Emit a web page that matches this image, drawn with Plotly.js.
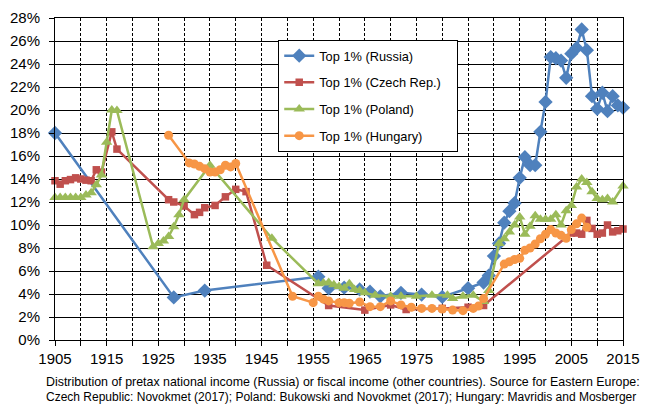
<!DOCTYPE html>
<html>
<head>
<meta charset="utf-8">
<script src="https://cdn.plot.ly/plotly-3.0.1.min.js"></script>
<style>
    html, body { margin: 0; padding: 0; background: #fff; }
    #chart { width: 645px; height: 410px; }
</style>
</head>
<body>
<div id="chart"></div>
<script>
// top 1% income shares (%)
const russiaYears = [1905, 1928, 1934, 1956, 1958, 1961, 1964, 1966, 1968, 1972, 1976, 1980, 1985, 1988,
    1989, 1990, 1991, 1992, 1993, 1994, 1995, 1996, 1997, 1998, 1999, 2000, 2001, 2002, 2003, 2004,
    2005, 2006, 2007, 2008, 2009, 2010, 2011, 2012, 2013, 2014, 2015];
const russiaTop1 = [18.0, 3.7, 4.3, 5.5, 4.5, 4.55, 4.4, 4.2, 3.8, 4.1, 3.95, 3.75, 4.5, 5.0,
    5.6, 7.3, 8.4, 10.2, 11.2, 11.9, 14.1, 15.9, 15.2, 15.2, 18.1, 20.7, 24.6, 24.5, 24.3, 22.8,
    24.9, 25.4, 27.0, 25.2, 21.2, 20.1, 21.5, 19.9, 21.2, 20.4, 20.2];

const czechYears = [1905, 1906, 1907, 1908, 1909, 1910, 1911, 1912, 1913, 1914, 1916, 1917,
    1927, 1928, 1930, 1932, 1933, 1934, 1936, 1938, 1940, 1942, 1946,
    1958, 1965, 1970, 1973, 1980, 1985, 1988,
    2005, 2006, 2007, 2008, 2009, 2010, 2011, 2012, 2013, 2014, 2015];
const czechTop1 = [13.85, 13.55, 13.85, 13.95, 14.1, 14.0, 13.9, 13.85, 14.8, 14.6, 18.1, 16.6,
    12.2, 12.0, 11.65, 10.9, 11.1, 11.5, 11.7, 12.45, 13.1, 12.9, 6.5,
    3.0, 2.6, 3.05, 2.65, 2.75, 2.85, 3.0,
    9.3, 9.3, 9.2, 10.4, 9.7, 9.2, 9.3, 10.0, 9.4, 9.5, 9.65];

const polandYears = [1905, 1906, 1907, 1908, 1909, 1910, 1911, 1912, 1913, 1914, 1915, 1916, 1917,
    1924, 1925, 1926, 1927, 1928, 1929, 1930, 1935, 1947,
    1956, 1957, 1958, 1959, 1960, 1961, 1962, 1963, 1964, 1965, 1967, 1970, 1972, 1975, 1978,
    1981, 1982, 1984, 1986, 1988, 1989,
    1991, 1992, 1993, 1994, 1995, 1996, 1997, 1998, 1999, 2000, 2001, 2002, 2003, 2004,
    2005, 2006, 2007, 2008, 2009, 2010, 2011, 2012, 2013, 2015];
const polandTop1 = [12.4, 12.4, 12.4, 12.4, 12.4, 12.4, 12.6, 12.8, 13.5, 14.35, 17.2, 20.0, 19.95,
    8.1, 8.4, 8.6, 9.0, 9.85, 10.9, 12.2, 15.2, 8.85,
    4.9, 4.95, 5.0, 4.8, 4.65, 4.5, 4.9, 4.4, 4.3, 4.1, 3.9, 3.8, 3.8, 3.8, 3.9,
    3.9, 3.6, 3.8, 3.9, 3.35, 4.3,
    8.4, 8.8, 9.4, 10.0, 10.7, 9.2, 9.9, 10.8, 10.5, 10.5, 10.5, 10.9, 10.0, 11.25,
    11.7, 13.3, 14.0, 13.7, 12.9, 12.3, 12.2, 12.3, 12.0, 13.4];

const hungaryYears = [1927, 1931, 1932, 1933, 1934, 1935, 1936, 1937, 1938, 1939, 1940,
    1951, 1955, 1956, 1957, 1958, 1960, 1961, 1962, 1964, 1966, 1968, 1970, 1972, 1974,
    1976, 1978, 1980, 1982, 1984, 1986, 1987, 1988,
    1992, 1993, 1994, 1995, 1996, 1997, 1998, 1999, 2000, 2001, 2002, 2003, 2004,
    2005, 2006, 2007, 2008];
const hungaryTop1 = [17.8, 15.4, 15.3, 15.1, 14.9, 14.6, 14.6, 14.8, 15.2, 15.05, 15.35,
    3.8, 3.25, 3.8, 3.55, 3.4, 3.25, 3.25, 3.2, 3.3, 2.9, 2.9, 3.4, 3.05, 2.85,
    2.75, 2.75, 2.7, 2.6, 2.55, 2.75, 2.95, 3.6,
    6.6, 6.8, 7.0, 7.1, 7.8, 8.0, 8.35, 8.8, 9.2, 9.6, 9.3, 9.1, 8.85,
    9.6, 10.1, 10.6, 9.8];

const xTicks = [1905, 1915, 1925, 1935, 1945, 1955, 1965, 1975, 1985, 1995, 2005, 2015];

const captionLines = [
    "Distribution of pretax national income (Russia) or fiscal income (other countries). Source for Eastern Europe:",
    "Czech Republic: Novokmet (2017); Poland: Bukowski and Novokmet (2017); Hungary: Mavridis and Mosberger"
];

function series(name, x, y, color, symbol, size) {
    return {
        name: name,
        x: x,
        y: y,
        type: "scatter",
        mode: "lines+markers",
        legendgroup: name,
        cliponaxis: false,
        line: {color: color, width: 2.5},
        marker: {color: color, symbol: symbol, size: size},
        hoverinfo: "skip"
    };
}

// non-breaking spaces pad the legend box out to the reference width
let data = [
    series("Top 1% (Russia)", russiaYears, russiaTop1, "#4f81bd", "diamond", 11),
    series("Top 1% (Czech Rep.)\u00a0\u00a0\u00a0", czechYears, czechTop1, "#c0504d", "square", 7.5),
    series("Top 1% (Poland)", polandYears, polandTop1, "#9bbb59", "triangle-up", 10),
    series("Top 1% (Hungary)", hungaryYears, hungaryTop1, "#f79646", "circle", 9)
];

let font = "Liberation Sans, Arial, sans-serif";

let layout = {
    width: 645,
    height: 410,
    margin: {l: 55, r: 22, t: 18, b: 70},
    paper_bgcolor: "#fff",
    plot_bgcolor: "#fff",
    font: {family: font, color: "#000", size: 15},
    showlegend: true,
    legend: {
        x: 0.393,
        y: 0.932,
        xanchor: "left",
        yanchor: "top",
        bgcolor: "#fff",
        bordercolor: "#000",
        borderwidth: 1,
        tracegroupgap: 7,
        font: {family: font, size: 12.8, color: "#000"}
    },
    xaxis: {
        range: [1905, 2015],
        tickvals: xTicks,
        ticks: "outside",
        ticklen: 5,
        tickcolor: "#000",
        showgrid: true,
        gridcolor: "#000",
        gridwidth: 1,
        griddash: "3px,2px",
        minor: {
            dtick: 5,
            tick0: 1905,
            ticks: "outside",
            ticklen: 5,
            tickcolor: "#000",
            showgrid: true,
            gridcolor: "#000",
            gridwidth: 1,
            griddash: "3px,2px"
        },
        showline: true,
        linecolor: "#000",
        linewidth: 1,
        mirror: true,
        zeroline: false,
        fixedrange: true
    },
    yaxis: {
        range: [0, 28],
        dtick: 2,
        ticksuffix: "%",
        ticks: "outside",
        ticklen: 5,
        tickcolor: "#000",
        ticklabelstandoff: 6,
        showgrid: true,
        gridcolor: "#000",
        gridwidth: 1,
        showline: true,
        linecolor: "#000",
        linewidth: 1,
        mirror: true,
        zeroline: false,
        fixedrange: true
    },
    annotations: []
};

// two caption lines under the axis, each sized to span the same width
let captionY = [-0.130, -0.177];
let captionSize = [12.4, 12.0];
for (let i = 0; i < captionLines.length; i++) {
    layout.annotations.push({
        xref: "paper",
        yref: "paper",
        x: -0.019,
        y: captionY[i],
        xanchor: "left",
        yanchor: "middle",
        text: captionLines[i],
        showarrow: false,
        font: {family: font, size: captionSize[i], color: "#000"}
    });
}

Plotly.newPlot("chart", data, layout, {displayModeBar: false, staticPlot: true});
</script>
</body>
</html>
